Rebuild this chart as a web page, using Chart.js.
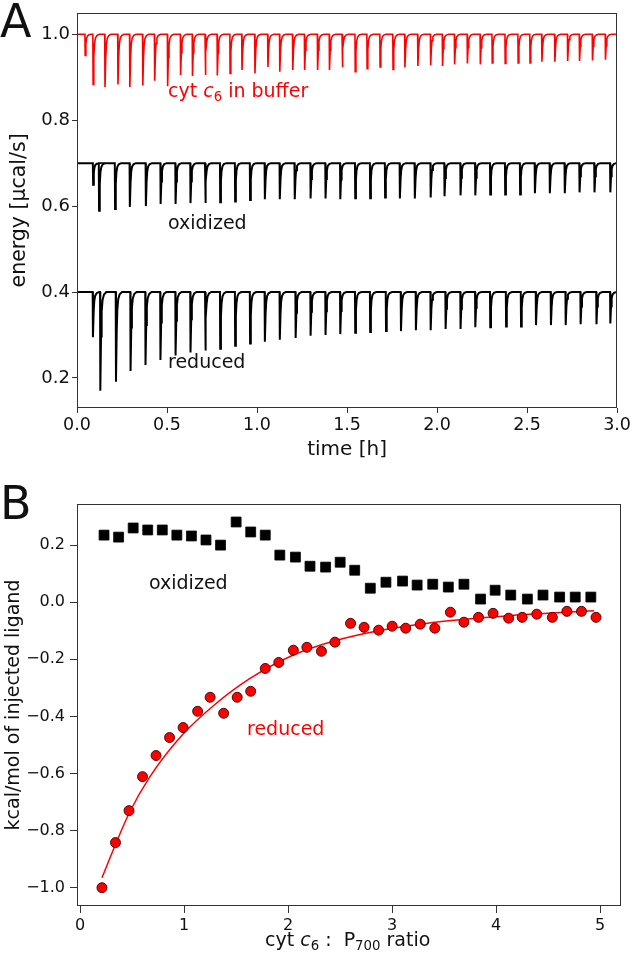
<!DOCTYPE html>
<html>
<head>
<meta charset="utf-8">
<script src="https://cdn.jsdelivr.net/npm/chart.js@4.4.1/dist/chart.umd.min.js"></script>
<style>
html,body{margin:0;padding:0;background:#fff;}
#wrap{position:relative;width:633px;height:958px;overflow:hidden;background:#fff;}
canvas{position:absolute;left:0;}
.t{position:absolute;white-space:nowrap;line-height:1;font-family:'DejaVu Sans';color:#111;}
.t i{font-style:oblique;}
.t sub{font-size:0.7em;vertical-align:-0.28em;line-height:0;}
</style>
</head>
<body>
<div id="wrap">
  <canvas id="ca" width="633" height="470" style="top:0;width:633px;height:470px"></canvas>
  <canvas id="cb" width="633" height="488" style="top:470px;width:633px;height:488px"></canvas>
  <div class="t" id="letterA" style="left:0px;top:-2px;font-size:46px;">A</div>
  <div class="t" id="letterB" style="left:0px;top:480px;font-size:46px;">B</div>
  <div class="t" style="left:168px;top:81px;font-size:19px;color:#ff0000;">cyt <i>c</i><sub>6</sub> in buffer</div>
  <div class="t" style="left:168px;top:213px;font-size:19px;">oxidized</div>
  <div class="t" style="left:168px;top:352px;font-size:19px;">reduced</div>
  <div class="t" style="left:149px;top:573px;font-size:19px;">oxidized</div>
  <div class="t" style="left:247px;top:719px;font-size:19px;color:#ff0000;">reduced</div>
  <div class="t" id="xtitleB" style="left:265px;top:930px;font-size:19px;">cyt <i>c</i><sub>6</sub> :&nbsp; P<sub>700</sub> ratio</div>
</div>
<script>
// ---------- Panel A: ITC thermograms (time in h, energy in µcal/s) ----------
const bufferBaseline = 1.0;
const bufferInjections = [0.044,0.088,0.154,0.226,0.292,0.364,0.430,0.502,0.574,0.640,0.711,0.778,0.849,0.915,0.987,1.059,1.125,1.197,1.263,1.335,1.401,1.472,1.544,1.610,1.682,1.754,1.820,1.892,1.963,2.029,2.096,2.167,2.239,2.305,2.377,2.449,2.515,2.581,2.653,2.724,2.790,2.862,2.934];
const bufferPeaks = [0.951,0.883,0.877,0.883,0.877,0.881,0.892,0.879,0.905,0.903,0.905,0.904,0.909,0.917,0.909,0.924,0.913,0.917,0.917,0.917,0.917,0.923,0.913,0.920,0.924,0.918,0.923,0.926,0.928,0.926,0.930,0.932,0.930,0.933,0.932,0.933,0.933,0.936,0.936,0.938,0.938,0.939,0.941];

const oxidizedBaseline = 0.7;
const oxidizedInjections = [0.088,0.121,0.210,0.292,0.381,0.463,0.546,0.629,0.711,0.794,0.877,0.960,1.042,1.125,1.208,1.296,1.379,1.461,1.544,1.627,1.710,1.792,1.875,1.963,2.040,2.129,2.211,2.294,2.377,2.460,2.542,2.625,2.708,2.790,2.873,2.961];
const oxidizedPeaks = [0.650,0.589,0.593,0.598,0.600,0.605,0.605,0.607,0.607,0.609,0.611,0.614,0.616,0.616,0.616,0.618,0.618,0.616,0.618,0.618,0.620,0.618,0.618,0.620,0.623,0.625,0.625,0.627,0.627,0.627,0.630,0.630,0.630,0.632,0.632,0.632];

const reducedBaseline = 0.4;
const reducedInjections = [0.087,0.128,0.215,0.296,0.379,0.462,0.546,0.629,0.711,0.794,0.877,0.960,1.042,1.125,1.213,1.296,1.379,1.461,1.544,1.627,1.715,1.798,1.881,1.963,2.046,2.129,2.211,2.294,2.382,2.465,2.548,2.631,2.713,2.796,2.884,2.961];
const reducedPeaks = [0.295,0.170,0.191,0.216,0.230,0.242,0.252,0.259,0.264,0.268,0.275,0.280,0.284,0.289,0.293,0.298,0.300,0.302,0.305,0.307,0.309,0.309,0.311,0.311,0.314,0.314,0.318,0.318,0.320,0.320,0.323,0.323,0.323,0.325,0.325,0.327];

const timeTicks = [0, 0.5, 1.0, 1.5, 2.0, 2.5, 3.0];
const energyTicks = [0.2, 0.4, 0.6, 0.8, 1.0];

// ---------- Panel B: integrated heats ----------
const oxidizedRatio = [0.23,0.37,0.51,0.65,0.79,0.93,1.07,1.21,1.35,1.50,1.64,1.78,1.92,2.07,2.21,2.36,2.50,2.64,2.79,2.94,3.10,3.24,3.39,3.54,3.69,3.85,3.99,4.14,4.30,4.45,4.61,4.76,4.91];
const oxidizedHeat = [0.235,0.228,0.260,0.253,0.253,0.235,0.232,0.218,0.200,0.281,0.246,0.235,0.165,0.158,0.126,0.123,0.140,0.112,0.049,0.070,0.074,0.060,0.063,0.053,0.063,0.011,0.042,0.025,0.011,0.025,0.018,0.018,0.018];

const reducedRatio = [0.21,0.34,0.47,0.60,0.73,0.86,0.99,1.13,1.25,1.38,1.51,1.64,1.78,1.91,2.05,2.18,2.32,2.45,2.60,2.73,2.87,3.00,3.13,3.27,3.41,3.56,3.69,3.83,3.97,4.12,4.25,4.39,4.54,4.68,4.82,4.96];
const reducedHeat = [-1.0,-0.842,-0.730,-0.611,-0.537,-0.474,-0.439,-0.382,-0.333,-0.389,-0.333,-0.312,-0.232,-0.211,-0.168,-0.158,-0.172,-0.140,-0.074,-0.088,-0.098,-0.084,-0.091,-0.077,-0.091,-0.035,-0.070,-0.053,-0.039,-0.056,-0.053,-0.042,-0.053,-0.032,-0.032,-0.053];

const fitRatio = [0.21,0.35,0.47,0.67,0.99,1.29,1.63,2.05,2.45,2.87,3.41,4.12,4.94];
const fitHeat = [-0.965,-0.840,-0.740,-0.612,-0.462,-0.360,-0.268,-0.185,-0.135,-0.100,-0.070,-0.047,-0.030];

const ratioTicks = [0, 1, 2, 3, 4, 5];
const heatTicks = [-1.0, -0.8, -0.6, -0.4, -0.2, 0.0, 0.2];

// ---------- helpers ----------
// spike outline: [time offset (h), fraction of peak depth]
const SPIKE_SHAPE = [[0.0015, 1.0], [0.0055, 0.45], [0.009, 0.2], [0.014, 0.08], [0.022, 0.025], [0.035, 0]];
function buildTrace(base, times, peaks) {
  const pts = [{x: 0, y: base}];
  times.forEach((t, i) => {
    const depth = base - peaks[i];
    pts.push({x: t, y: base});
    SPIKE_SHAPE.forEach(([dt, f]) => pts.push({x: t + dt, y: base - f * depth}));
  });
  pts.push({x: 3, y: base});
  return pts;
}
const zip = (xs, ys) => xs.map((x, i) => ({x, y: ys[i]}));

const FONT = "'DejaVu Sans'";
const TXT = '#111';
const framePlugin = {
  id: 'frame',
  afterDraw(chart) {
    const {ctx, chartArea: a} = chart;
    ctx.save();
    ctx.strokeStyle = '#333';
    ctx.lineWidth = 1;
    ctx.strokeRect(Math.round(a.left) + 0.5, Math.round(a.top) + 0.5, Math.round(a.right - a.left) - 1, Math.round(a.bottom - a.top) - 1);
    ctx.restore();
  }
};

// ---------- Chart A ----------
new Chart(document.getElementById('ca'), {
  type: 'scatter',
  data: {
    datasets: [
      {data: buildTrace(bufferBaseline, bufferInjections, bufferPeaks), showLine: true, borderColor: '#ff0000', borderWidth: 1.6, pointRadius: 0, tension: 0},
      {data: buildTrace(oxidizedBaseline, oxidizedInjections, oxidizedPeaks), showLine: true, borderColor: '#000', borderWidth: 2, pointRadius: 0, tension: 0},
      {data: buildTrace(reducedBaseline, reducedInjections, reducedPeaks), showLine: true, borderColor: '#000', borderWidth: 2, pointRadius: 0, tension: 0}
    ]
  },
  options: {
    responsive: false, animation: false, events: [],
    layout: {padding: {left: 0, right: 12, top: 3, bottom: 0}},
    plugins: {legend: {display: false}, tooltip: {enabled: false}},
    scales: {
      x: {
        type: 'linear', min: 0, max: 3,
        afterBuildTicks: s => { s.ticks = timeTicks.map(v => ({value: v})); },
        afterFit: s => { s.height = 62; },
        ticks: {font: {family: FONT, size: 17.5}, color: TXT, padding: 2, maxRotation: 0, callback: v => v.toFixed(1)},
        grid: {drawOnChartArea: false, drawTicks: true, tickLength: 5, color: '#333'},
        border: {display: false},
        title: {display: true, text: 'time [h]', font: {family: FONT, size: 20}, color: TXT, padding: {top: 0, bottom: 8}}
      },
      y: {
        type: 'linear', min: 0.13, max: 1.05,
        afterBuildTicks: s => { s.ticks = energyTicks.map(v => ({value: v})); },
        afterFit: s => { s.width = 77; },
        ticks: {font: {family: FONT, size: 18}, color: TXT, padding: 2, callback: v => v.toFixed(1)},
        grid: {drawOnChartArea: false, drawTicks: true, tickLength: 5, color: '#333'},
        border: {display: false},
        title: {display: true, text: 'energy [µcal/s]', font: {family: FONT, size: 20.5}, color: TXT, padding: {top: 7, bottom: 0}}
      }
    }
  },
  plugins: [framePlugin]
});

// ---------- Chart B ----------
new Chart(document.getElementById('cb'), {
  type: 'scatter',
  data: {
    datasets: [
      {data: zip(reducedRatio, reducedHeat), pointStyle: 'circle', pointRadius: 5, backgroundColor: '#ff0000', borderColor: '#3a0000', borderWidth: 0.9, order: 0},
      {data: zip(oxidizedRatio, oxidizedHeat), pointStyle: 'rect', pointRadius: 7, backgroundColor: '#000', borderColor: '#000', borderWidth: 0.8, order: 1},
      {data: zip(fitRatio, fitHeat), showLine: true, pointRadius: 0, borderColor: '#ff0000', borderWidth: 1.5, cubicInterpolationMode: 'monotone', order: 2}
    ]
  },
  options: {
    responsive: false, animation: false, events: [],
    layout: {padding: {left: 0, right: 12, top: 34, bottom: 0}},
    plugins: {legend: {display: false}, tooltip: {enabled: false}},
    scales: {
      x: {
        type: 'linear', min: -0.03, max: 5.2,
        afterBuildTicks: s => { s.ticks = ratioTicks.map(v => ({value: v})); },
        afterFit: s => { s.height = 52; },
        ticks: {font: {family: FONT, size: 16}, color: TXT, padding: 3, maxRotation: 0, callback: v => String(Math.round(v))},
        grid: {drawOnChartArea: false, drawTicks: true, tickLength: 7, color: '#333'},
        border: {display: false}
      },
      y: {
        type: 'linear', min: -1.064, max: 0.344,
        afterBuildTicks: s => { s.ticks = heatTicks.map(v => ({value: v})); },
        afterFit: s => { s.width = 77; },
        ticks: {font: {family: FONT, size: 16}, color: TXT, padding: 5, callback: v => (v < -1e-9 ? '\u2212' : '') + Math.abs(v).toFixed(1)},
        grid: {drawOnChartArea: false, drawTicks: true, tickLength: 7, color: '#333'},
        border: {display: false},
        title: {display: true, text: 'kcal/mol of injected ligand', font: {family: FONT, size: 19}, color: TXT, padding: {top: 3, bottom: 0}}
      }
    }
  },
  plugins: [framePlugin]
});
</script>
</body>
</html>
